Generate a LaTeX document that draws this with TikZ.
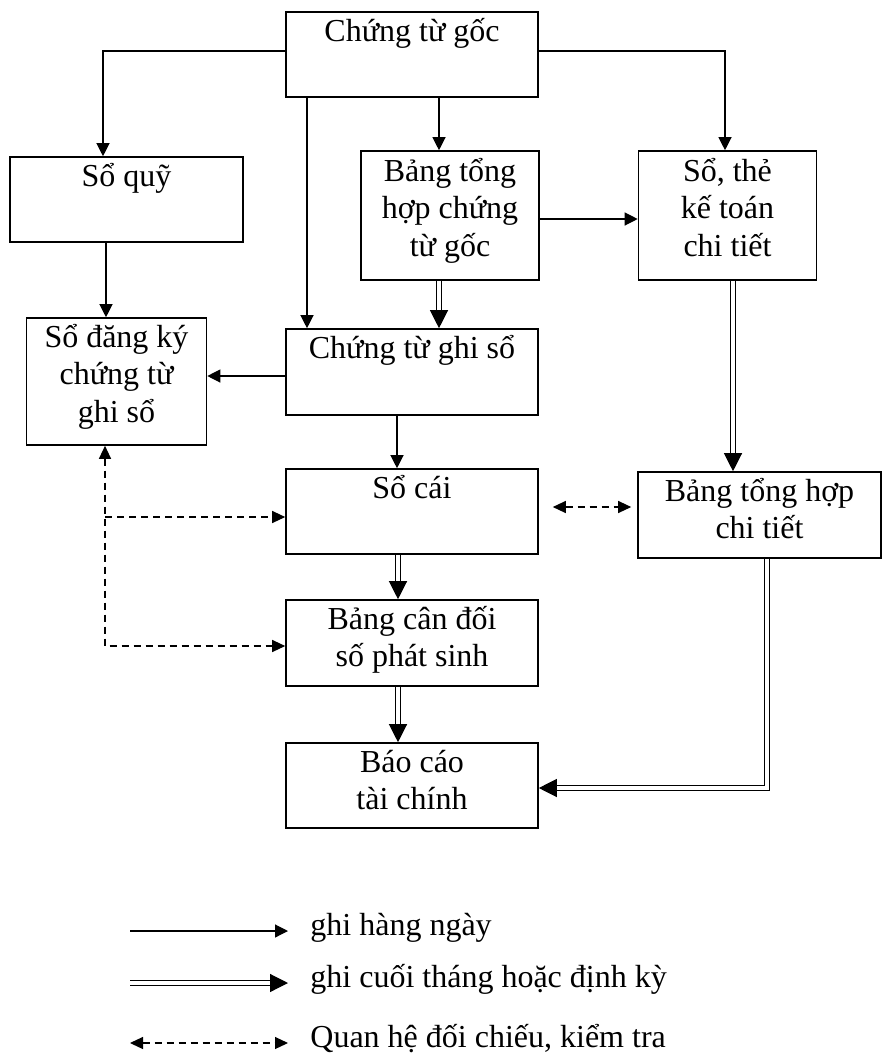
\documentclass[tikz,border=0pt]{standalone}
\usepackage{fontspec}
\setmainfont{Liberation Serif}
\usetikzlibrary{arrows.meta}

\tikzset{
  box/.style={draw, line width=0.8pt, inner sep=0pt},
  txt/.style={anchor=base, align=center, inner sep=0pt, font=\fontsize{16pt}{18.75pt}\selectfont},
  lgd/.style={anchor=base west, inner sep=0pt, font=\fontsize{16pt}{18.75pt}\selectfont},
  line/.style={line width=0.6pt, -{Triangle[length=6.5pt,width=6.5pt]}},
  dbl/.style={double, double distance=1.8pt, line width=0.6pt, -{Triangle[length=9pt,width=9pt]}},
  dsh/.style={line width=0.6pt, dash pattern=on 3.5pt off 2.5pt, {Triangle[length=6.5pt,width=6pt]}-{Triangle[length=6.5pt,width=6pt]}},
  dshr/.style={line width=0.6pt, dash pattern=on 3.5pt off 2.5pt, -{Triangle[length=6.5pt,width=6pt]}},
}

\begin{document}
\begin{tikzpicture}[x=0.5pt, y=-0.5pt]
  \useasboundingbox (0,0) rectangle (883,1055);

  % boxes
  \node[box, minimum width=126pt, minimum height=42.5pt] (goc) at (412,54.5) {};
  \node[box, minimum width=116.5pt, minimum height=42.5pt] (soquy) at (126.5,199.5) {};
  \node[box, minimum width=89pt, minimum height=64.5pt] (bthgoc) at (450,215.5) {};
  \node[box, minimum width=89pt, minimum height=64.5pt] (sothe) at (727.5,215.5) {};
  \node[box, minimum width=90pt, minimum height=63.5pt] (sodk) at (116.5,381.5) {};
  \node[box, minimum width=126pt, minimum height=43pt] (ctgs) at (412,372) {};
  \node[box, minimum width=126pt, minimum height=42.5pt] (socai) at (412,511.5) {};
  \node[box, minimum width=121.5pt, minimum height=43pt] (bthct) at (759.5,515) {};
  \node[box, minimum width=126pt, minimum height=43pt] (cdps) at (412,643) {};
  \node[box, minimum width=126pt, minimum height=42.5pt] (bctc) at (412,785.5) {};

  % texts (base = last line)
  \node[txt] (goc-t) at ([yshift=-15pt]goc.north) {Chứng từ gốc};
  \node[txt] (soquy-t) at ([yshift=-15pt]soquy.north) {Sổ quỹ};
  \node[txt] (bthgoc-t) at ([yshift=-53pt]bthgoc.north) {Bảng tổng\\hợp chứng\\từ gốc};
  \node[txt] (sothe-t) at ([yshift=-53pt]sothe.north) {Sổ, thẻ\\kế toán\\chi tiết};
  \node[txt] (sodk-t) at ([yshift=-52.5pt]sodk.north) {Sổ đăng ký\\chứng từ\\ghi sổ};
  \node[txt] (ctgs-t) at ([yshift=-15pt]ctgs.north) {Chứng từ ghi sổ};
  \node[txt] (socai-t) at ([yshift=-15pt]socai.north) {Sổ cái};
  \node[txt] (bthct-t) at ([yshift=-33.75pt]bthct.north) {Bảng tổng hợp\\chi tiết};
  \node[txt] (cdps-t) at ([yshift=-33.75pt]cdps.north) {Bảng cân đối\\số phát sinh};
  \node[txt] (bctc-t) at ([yshift=-33.75pt]bctc.north) {Báo cáo\\tài chính};

  % daily
  \draw[line] ([yshift=1.75pt]goc.west) -| ([xshift=-11.75pt]soquy.north);
  \draw[line] ([yshift=1.75pt]goc.east) -| ([xshift=-1.25pt]sothe.north);
  \coordinate (a3) at ([xshift=-5.5pt]bthgoc.north);
  \draw[line] (goc.south -| a3) -- (a3);
  \coordinate (a4) at ([xshift=-52.5pt]ctgs.north);
  \draw[line] (goc.south -| a4) -- (a4);
  \draw[line] ([yshift=-1.75pt]bthgoc.east) -- ([yshift=-1.75pt]sothe.west);
  \coordinate (a7) at ([xshift=-10.25pt]soquy.south);
  \draw[line] (a7) -- (a7 |- sodk.north);
  \coordinate (a8) at ([yshift=-2pt]ctgs.west);
  \draw[line] (a8) -- (a8 -| sodk.east);
  \coordinate (a9) at ([xshift=-7.5pt]ctgs.south);
  \draw[line] (a9) -- (a9 |- socai.north);

  % end of month
  \draw[dbl] (bthgoc.south -| a3) -- (ctgs.north -| a3);
  \coordinate (a10) at ([xshift=2.75pt]sothe.south);
  \draw[dbl] (a10) -- (a10 |- bthct.north);
  \coordinate (a12) at ([xshift=-7pt]socai.south);
  \draw[dbl] (a12) -- (a12 |- cdps.north);
  \coordinate (a13) at ([xshift=-7pt]cdps.south);
  \draw[dbl] (a13) -- (a13 |- bctc.north);
  \coordinate (a14) at ([xshift=3.75pt]bthct.south);
  \coordinate (b14) at ([yshift=-1.25pt]bctc.east);
  \draw[dbl] (a14) |- (b14);

  % checks
  \coordinate (a11) at ([xshift=7pt,yshift=2.25pt]socai.east);
  \coordinate (b11) at ([xshift=-3pt]bthct.west);
  \draw[dsh] (a11) -- (b11 |- a11);
  \coordinate (a15) at ([xshift=-5.75pt]sodk.south);
  \coordinate (b15) at ([yshift=-1.5pt]cdps.west);
  \coordinate (c15) at ([yshift=-2.75pt]socai.west);
  \draw[dsh] (a15) |- (b15);
  \draw[dshr] (a15 |- c15) -- (c15);

  % legend
  \coordinate (l1a) at (130,931);  \coordinate (l1b) at (288,931);
  \coordinate (l2a) at (130,983);  \coordinate (l2b) at (288,983);
  \coordinate (l3a) at (130,1043); \coordinate (l3b) at (288,1043);
  \draw[line] (l1a) -- (l1b);
  \draw[dbl] (l2a) -- (l2b);
  \draw[dsh] (l3a) -- (l3b);
  \node[lgd] (l1t) at ([xshift=11pt,yshift=-2pt]l1b) {ghi hàng ngày};
  \node[lgd] (l2t) at ([xshift=11pt,yshift=-2pt]l2b) {ghi cuối tháng hoặc định kỳ};
  \node[lgd] (l3t) at ([xshift=11pt,yshift=-2pt]l3b) {Quan hệ đối chiếu, kiểm tra};
\end{tikzpicture}
\end{document}
